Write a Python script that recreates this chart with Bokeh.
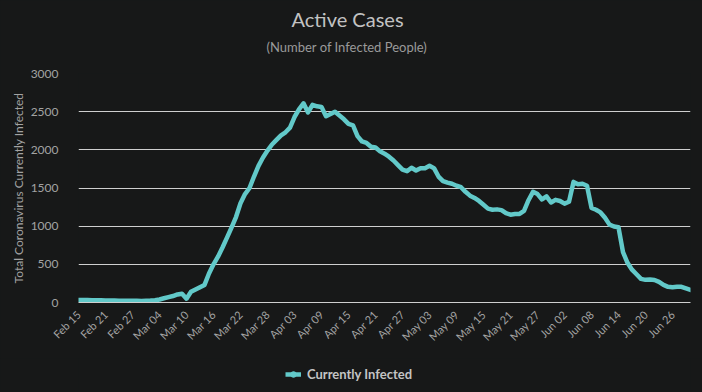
import math
import pandas as pd
from bokeh.plotting import figure
from bokeh.layouts import column
from bokeh.models import (Range1d, FixedTicker, DatetimeTickFormatter, Title,
                          Legend, LegendItem, ColumnDataSource)
from bokeh.embed import file_html
from bokeh.resources import INLINE

# ---------------- data ----------------
start_date = "2020-02-15"
active = [
    33, 33, 32, 30, 29, 28, 27, 26, 25, 24, 23, 22, 22, 22, 21, 23,          # Feb 15 - Mar 01
    25, 30, 40, 55, 70, 85, 105, 115, 50, 140, 170, 200, 230, 380, 500,      # Mar 02 - Mar 16
    600, 720, 850, 980, 1120, 1300, 1420, 1500, 1650, 1790, 1900, 1990,      # Mar 17 - Mar 28
    2070, 2130, 2190, 2230, 2290, 2430, 2530, 2610, 2490, 2590, 2570, 2560,  # Mar 29 - Apr 09
    2440, 2470, 2500, 2450, 2400, 2340, 2320, 2180, 2110, 2090, 2040, 2030,  # Apr 10 - Apr 21
    1980, 1950, 1910, 1860, 1800, 1740, 1720, 1765, 1730, 1760, 1760, 1790,  # Apr 22 - May 03
    1760, 1650, 1590, 1570, 1555, 1530, 1510, 1450, 1400, 1370, 1330, 1280,  # May 04 - May 15
    1230, 1215, 1220, 1210, 1170, 1150, 1160, 1160, 1200, 1340, 1450, 1420,  # May 16 - May 27
    1350, 1390, 1310, 1345, 1330, 1295, 1320, 1580, 1550, 1555, 1530, 1240,  # May 28 - Jun 08
    1215, 1180, 1110, 1020, 995, 985, 660, 520, 430, 370, 310, 297,          # Jun 09 - Jun 20
    300, 295, 270, 230, 205, 200, 205, 205, 185, 165,                        # Jun 21 - Jun 30
]
tick_every_days = 6
y_ticks = [0, 500, 1000, 1500, 2000, 2500, 3000]
title_text = "Active Cases"
subtitle_text = "(Number of Infected People)"
y_title = "Total Coronavirus Currently Infected"
series_name = "Currently Infected"

# ---------------- styling ----------------
BG = "#171818"
TEAL = "#62c9c9"
GRID = "#cfcfcf"
LABEL = "#a3a3a3"
FONT = "Lato"

dates = pd.date_range(start_date, periods=len(active), freq="D")
src = ColumnDataSource(dict(date=dates, active=active))

p = figure(width=702, height=358, x_axis_type="datetime",
           output_backend="svg", toolbar_location=None,
           x_range=Range1d(dates[0], dates[-1]),
           y_range=Range1d(y_ticks[0], y_ticks[-1]),
           min_border_left=78, min_border_right=12,
           min_border_top=73, min_border_bottom=56)

p.background_fill_color = BG
p.border_fill_color = BG
p.outline_line_color = None

# grid
p.xgrid.visible = False
p.ygrid.grid_line_color = GRID
p.ygrid.grid_line_width = 1

# y axis
p.yaxis.ticker = FixedTicker(ticks=y_ticks)
p.yaxis.axis_line_color = None
p.yaxis.major_tick_line_color = None
p.yaxis.minor_tick_line_color = None
p.yaxis.major_label_text_color = LABEL
p.yaxis.major_label_text_font = FONT
p.yaxis.major_label_text_font_size = "12px"
p.yaxis.major_label_standoff = 14
p.yaxis.axis_label = y_title
p.yaxis.axis_label_text_color = LABEL
p.yaxis.axis_label_text_font = FONT
p.yaxis.axis_label_text_font_size = "12px"
p.yaxis.axis_label_text_font_style = "normal"
p.yaxis.axis_label_standoff = 2

# x axis
tick_dates = dates[::tick_every_days]
p.xaxis.ticker = FixedTicker(ticks=[d.timestamp() * 1000 for d in tick_dates])
fmt = "%b %d"
p.xaxis.formatter = DatetimeTickFormatter(days=fmt, months=fmt, years=fmt,
                                          hours=fmt, minutes=fmt, seconds=fmt,
                                          milliseconds=fmt, microseconds=fmt,
                                          hourmin=fmt, minsec=fmt)
p.xaxis.axis_line_color = GRID
p.xaxis.major_tick_line_color = None
p.xaxis.minor_tick_line_color = None
p.xaxis.major_label_orientation = math.pi / 4
p.xaxis.major_label_text_color = LABEL
p.xaxis.major_label_text_font = FONT
p.xaxis.major_label_text_font_size = "11px"
p.xaxis.major_label_standoff = 4

# series
p.line("date", "active", source=src, line_color=TEAL, line_width=4.5,
       line_join="round", line_cap="round")

# titles (first added sits nearest the plot); a tiny blank title acts as a spacer
p.add_layout(Title(text=" ", standoff=9, text_font_size="1px",
                   text_color=BG), "above")
p.add_layout(Title(text=subtitle_text, align="left", offset=188, standoff=13,
                   text_color="#9a9a9a", text_font=FONT, text_font_size="13px",
                   text_font_style="normal"), "above")
p.add_layout(Title(text=title_text, align="left", offset=213, standoff=0,
                   text_color="#c2c2c2", text_font=FONT, text_font_size="20px",
                   text_font_style="normal"), "above")

# ---------------- legend strip ----------------
# The strip's y range lies below all the data, so its renderers only feed the legend swatch.
lg = figure(width=702, height=32, output_backend="svg", toolbar_location=None,
            x_axis_location=None, y_axis_location=None,
            x_range=Range1d(dates[0], dates[-1]), y_range=Range1d(-20, -10),
            min_border_left=0, min_border_right=0,
            min_border_top=0, min_border_bottom=0)
lg.background_fill_color = BG
lg.border_fill_color = BG
lg.outline_line_color = None
lg.grid.visible = False
lr = lg.line("date", "active", source=src, line_color=TEAL, line_width=4.5)
lm = lg.scatter("date", "active", source=src, marker="circle", size=9,
                fill_color=TEAL, line_color=TEAL)
legend = Legend(items=[LegendItem(label=series_name, renderers=[lr, lm])],
                location=(207, 8), orientation="horizontal",
                background_fill_alpha=0, border_line_alpha=0,
                label_text_color="#c4c4c4", label_text_font=FONT,
                label_text_font_style="bold", label_text_font_size="13px",
                glyph_width=16, glyph_height=14, label_standoff=6, padding=0,
                margin=0)
lg.add_layout(legend, "center")

layout = column(p, lg, spacing=0)
layout.background = BG

html = file_html(layout, INLINE)
html = html.replace("<head>", "<head><style>html,body{background:%s;}</style>" % BG, 1)
open("out.html", "w").write(html)
